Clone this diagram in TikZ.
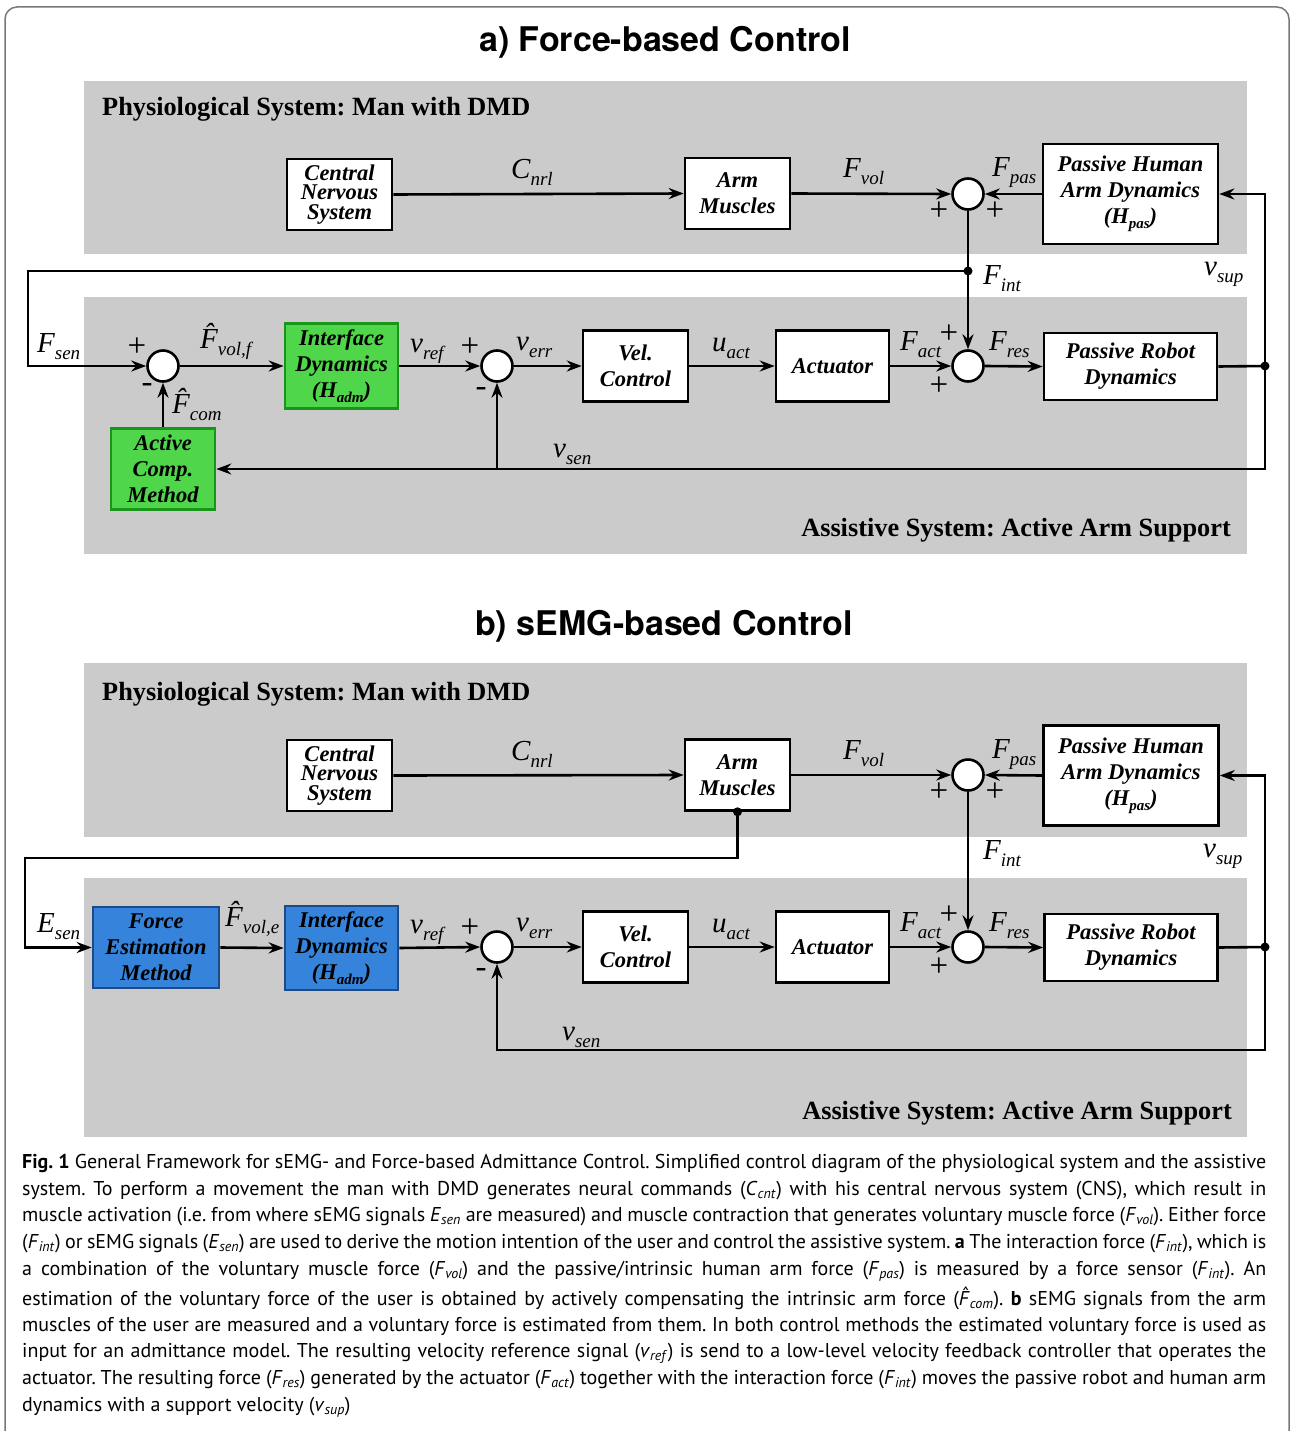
\documentclass[tikz,border=0pt]{standalone}
\usepackage{fontspec}
\setmainfont{Liberation Serif}
\newfontfamily\headfont{TeX Gyre Heros}
\newfontfamily\capfont{PT Sans}
\usetikzlibrary{arrows.meta}
\definecolor{panelgray}{RGB}{203,203,203}
\definecolor{gfill}{RGB}{80,214,74}
\definecolor{gdraw}{RGB}{25,150,25}
\definecolor{bfill}{RGB}{53,131,218}
\definecolor{bdraw}{RGB}{30,75,135}
\definecolor{framegray}{RGB}{120,120,120}
\frenchspacing
\newcommand\bfnt{\fontsize{22.5}{26}\selectfont\bfseries\itshape}
\newcommand\sgnfont{\fontsize{33}{33}\selectfont}
\newcommand\ptfont{\fontsize{26.3}{30}\selectfont\bfseries}
\newcommand\sig[2]{{\fontsize{29}{29}\selectfont\itshape #1}\raisebox{-7pt}{\fontsize{19}{19}\selectfont\itshape #2}}
\newcommand\bsub[2]{#1\raisebox{-5pt}{\fontsize{15}{15}\selectfont #2}}
\newcommand\csb[2]{\textit{#1}\textsubscript{\textit{#2}}}
\newcommand\caphatF{\ooalign{\textit{F}\cr\hidewidth\kern0.12em\raisebox{0.2em}{\char"02C6}\hidewidth\cr}}
\begin{document}
\begin{tikzpicture}[x=1pt,y=-1pt,
  every node/.style={inner sep=0pt},
  blk/.style={draw, line width=2.6pt, fill=white, align=center, font=\bfnt},
  gblk/.style={blk, fill=gfill, draw=gdraw},
  bblk/.style={blk, fill=bfill, draw=bdraw},
  sumc/.style={circle, draw, fill=white, line width=2.6pt, minimum size=31pt},
  dot/.style={circle, fill=black, minimum size=9pt},
  conn/.style={line width=2.6pt},
  arr/.style={conn, -{Stealth[length=15pt,width=11pt,inset=5pt]}},
  lbl/.style={anchor=base west},
  sgn/.style={font=\sgnfont},
  ptitle/.style={font=\ptfont},
  head/.style={font=\headfont\bfseries\fontsize{34}{38}\selectfont},
  capline/.style={anchor=base west, font=\capfont\fontsize{20}{24}\selectfont},
]
\useasboundingbox (0,0) rectangle (1291,1431);
\draw[framegray, line width=1.5pt, rounded corners=12pt] (5,7) rectangle (1289,1470);

% ================= a) =================
\node[head] (ha) at (665,42) {a)\ Force-based Control};
\fill[panelgray] (84,81) rectangle (1247,254);
\fill[panelgray] (84,297) rectangle (1247,554);
\node[ptitle, anchor=base west] (pa1) at (102,116) {Physiological System: Man with DMD};
\node[ptitle, anchor=base east] (pa2) at (1231,536) {Assistive System: Active Arm Support};

\node[blk, minimum width=105pt, minimum height=71pt, font=\fontsize{22.5}{19.8}\selectfont\bfseries\itshape] (cns1) at (339.5,194.5) {Central\\Nervous\\System};
\node[blk, minimum width=105pt, minimum height=71pt] (am1) at (737.5,193.5) {Arm\\Muscles};
\node[blk, minimum width=175pt, minimum height=100pt] (phad1) at (1130.5,194) {Passive Human\\Arm Dynamics\\(\bsub{H}{pas})};
\node[gblk, minimum width=113pt, minimum height=85pt] (id1) at (341.5,366) {Interface\\Dynamics\\(\bsub{H}{adm})};
\node[gblk, minimum width=104pt, minimum height=81pt] (acm) at (163,469) {Active\\Comp.\\Method};
\node[blk, minimum width=105pt, minimum height=71pt] (vc1) at (635.5,366) {Vel.\\Control};
\node[blk, minimum width=113pt, minimum height=71pt] (act1) at (832.5,366) {Actuator};
\node[blk, minimum width=173pt, minimum height=67pt] (prd1) at (1130.5,366.5) {Passive Robot\\Dynamics};

\node[sumc] (s1a) at (968,194) {};
\node[sumc] (s2a) at (968,366) {};
\node[sumc] (s3a) at (163,366) {};
\node[sumc] (s4a) at (497,366) {};
\node[dot] (j1) at (968,271) {};
\node[dot] (j2) at (1265,366) {};

\draw[arr] (cns1.east) -- (am1.west);
\draw[arr] (am1.east) -- (s1a.west);
\draw[arr] (phad1.west) -- (s1a.east);
\draw[arr] (s1a.south) -- (s2a.north);
\draw[arr] (j1.center) -- (28,271) |- (s3a.west);
\draw[arr] (s3a.east) -- (id1.west);
\draw[arr] (acm.north) -- (s3a.south);
\draw[arr] (id1.east) -- (s4a.west);
\draw[arr] (s4a.east) -- (vc1.west);
\draw[arr] (vc1.east) -- (act1.west);
\draw[arr] (act1.east) -- (s2a.west);
\draw[arr] (s2a.east) -- (prd1.west);
\draw[conn] (prd1.east) -- (j2.center);
\draw[arr] (j2.center) |- (phad1.east);
\draw[arr] (j2.center) |- (acm.east);
\draw[arr] (s4a |- acm.east) -- (s4a.south);

\node[lbl] (la1) at (511,179) {\sig{C}{nrl}};
\node[lbl] (la2) at (843,178) {\sig{F}{vol}};
\node[lbl] (la3) at (992,177) {\sig{F}{pas}};
\node[lbl] (la4) at (983,284) {\sig{F}{int}};
\node[lbl] (la5) at (1204,275) {\sig{v}{sup}};
\node[lbl] (la6) at (37,352) {\sig{F}{sen}};
\node[lbl] (la7) at (200,348) {\sig{\^{F}}{vol,f}};
\node[lbl] (la8) at (172,413) {\sig{\^{F}}{com}};
\node[lbl] (la9) at (410,352) {\sig{v}{ref}};
\node[lbl] (la10) at (516,350) {\sig{v}{err}};
\node[lbl] (la11) at (712,351) {\sig{u}{act}};
\node[lbl] (la12) at (900,350) {\sig{F}{act}};
\node[lbl] (la13) at (989,350) {\sig{F}{res}};
\node[lbl] (la14) at (553,457) {\sig{v}{sen}};

\node[sgn] (pa_1) at (939,211) {+};
\node[sgn] (pa_2) at (995,211) {+};
\node[sgn] (pa_3) at (949,334) {+};
\node[sgn] (pa_4) at (939,386) {+};
\node[sgn] (pa_5) at (137,347) {+};
\node[sgn] (pa_6) at (147,388) {-};
\node[sgn] (pa_7) at (470,347) {+};
\node[sgn] (pa_8) at (481,392) {-};

% ================= b) =================
\node[head] (hb) at (664,626) {b)\ sEMG-based Control};
\fill[panelgray] (84,663) rectangle (1247,837);
\fill[panelgray] (84,878) rectangle (1247,1137);
\node[ptitle, anchor=base west] (pb1) at (102,700) {Physiological System: Man with DMD};
\node[ptitle, anchor=base east] (pb2) at (1232,1119) {Assistive System: Active Arm Support};

\node[blk, minimum width=105pt, minimum height=71pt, font=\fontsize{22.5}{19.8}\selectfont\bfseries\itshape] (cns2) at (339.5,775.5) {Central\\Nervous\\System};
\node[blk, minimum width=105pt, minimum height=71pt] (am2) at (737.5,775) {Arm\\Muscles};
\node[blk, minimum width=175pt, minimum height=100pt] (phad2) at (1131,775.5) {Passive Human\\Arm Dynamics\\(\bsub{H}{pas})};
\node[bblk, minimum width=126pt, minimum height=81pt] (fem) at (156,947.5) {Force\\Estimation\\Method};
\node[bblk, minimum width=113pt, minimum height=84pt] (id2) at (341.5,948) {Interface\\Dynamics\\(\bsub{H}{adm})};
\node[blk, minimum width=105pt, minimum height=71pt] (vc2) at (635.5,947) {Vel.\\Control};
\node[blk, minimum width=113pt, minimum height=71pt] (act2) at (832.5,947) {Actuator};
\node[blk, minimum width=173pt, minimum height=67pt] (prd2) at (1131,947.5) {Passive Robot\\Dynamics};

\node[sumc] (s1b) at (968,775) {};
\node[sumc] (s2b) at (968,947) {};
\node[sumc] (s4b) at (497,947) {};
\node[dot] (j3) at (am2.south) {};
\node[dot] (j4) at (1265,947) {};

\draw[arr] (cns2.east) -- (am2.west);
\draw[arr] (am2.east) -- (s1b.west);
\draw[arr] (phad2.west) -- (s1b.east);
\draw[arr] (s1b.south) -- (s2b.north);
\draw[arr] (j3.center) -- (737.5,858) -- (25,858) |- (fem.west);
\draw[arr] (fem.east) -- (id2.west);
\draw[arr] (id2.east) -- (s4b.west);
\draw[arr] (s4b.east) -- (vc2.west);
\draw[arr] (vc2.east) -- (act2.west);
\draw[arr] (act2.east) -- (s2b.west);
\draw[arr] (s2b.east) -- (prd2.west);
\draw[conn] (prd2.east) -- (j4.center);
\draw[arr] (j4.center) |- (phad2.east);
\draw[arr] (j4.center) -- (1265,1050) -| (s4b.south);

\node[lbl] (lb1) at (511,760) {\sig{C}{nrl}};
\node[lbl] (lb2) at (843,759) {\sig{F}{vol}};
\node[lbl] (lb3) at (992,758) {\sig{F}{pas}};
\node[lbl] (lb4) at (983,859) {\sig{F}{int}};
\node[lbl] (lb5) at (1203,857) {\sig{v}{sup}};
\node[lbl] (lb6) at (37,932) {\sig{E}{sen}};
\node[lbl] (lb7) at (225,926) {\sig{\^{F}}{vol,e}};
\node[lbl] (lb9) at (410,933) {\sig{v}{ref}};
\node[lbl] (lb10) at (516,931) {\sig{v}{err}};
\node[lbl] (lb11) at (712,932) {\sig{u}{act}};
\node[lbl] (lb12) at (900,931) {\sig{F}{act}};
\node[lbl] (lb13) at (989,931) {\sig{F}{res}};
\node[lbl] (lb14) at (562,1040) {\sig{v}{sen}};

\node[sgn] (pb_1) at (939,792) {+};
\node[sgn] (pb_2) at (995,792) {+};
\node[sgn] (pb_3) at (949,915) {+};
\node[sgn] (pb_4) at (939,967) {+};
\node[sgn] (pb_7) at (470,928) {+};
\node[sgn] (pb_8) at (481,973) {-};

% ================= caption =================
\node[capline] (c1) at (22,1168) {\makebox[1244pt][s]{\textbf{Fig. 1} General Framework for sEMG- and Force-based Admittance Control. Simplified control diagram of the physiological system and the assistive}};
\node[capline] (c2) at (22,1195) {\makebox[1244pt][s]{system. To perform a movement the man with DMD generates neural commands (\csb{C}{cnt}) with his central nervous system (CNS), which result in}};
\node[capline] (c3) at (22,1221.5) {\makebox[1244pt][s]{muscle activation (i.e. from where sEMG signals \csb{E}{sen} are measured) and muscle contraction that generates voluntary muscle force (\csb{F}{vol}). Either force}};
\node[capline] (c4) at (22,1248) {\makebox[1244pt][s]{(\csb{F}{int}) or sEMG signals (\csb{E}{sen}) are used to derive the motion intention of the user and control the assistive system. \textbf{a} The interaction force (\csb{F}{int}), which is}};
\node[capline] (c5) at (22,1275) {\makebox[1244pt][s]{a combination of the voluntary muscle force (\csb{F}{vol}) and the passive/intrinsic human arm force (\csb{F}{pas}) is measured by a force sensor (\csb{F}{int}). An}};
\node[capline] (c6) at (22,1305) {\makebox[1244pt][s]{estimation of the voluntary force of the user is obtained by actively compensating the intrinsic arm force (\caphatF\textsubscript{\textit{com}}). \textbf{b} sEMG signals from the arm}};
\node[capline] (c7) at (22,1331) {\makebox[1244pt][s]{muscles of the user are measured and a voluntary force is estimated from them. In both control methods the estimated voluntary force is used as}};
\node[capline] (c8) at (22,1357) {\makebox[1244pt][s]{input for an admittance model. The resulting velocity reference signal (\csb{v}{ref}) is send to a low-level velocity feedback controller that operates the}};
\node[capline] (c9) at (22,1384) {\makebox[1244pt][s]{actuator. The resulting force (\csb{F}{res}) generated by the actuator (\csb{F}{act}) together with the interaction force (\csb{F}{int}) moves the passive robot and human arm}};
\node[capline] (c10) at (22,1411) {dynamics with a support velocity (\csb{v}{sup})};
\end{tikzpicture}
\end{document}
